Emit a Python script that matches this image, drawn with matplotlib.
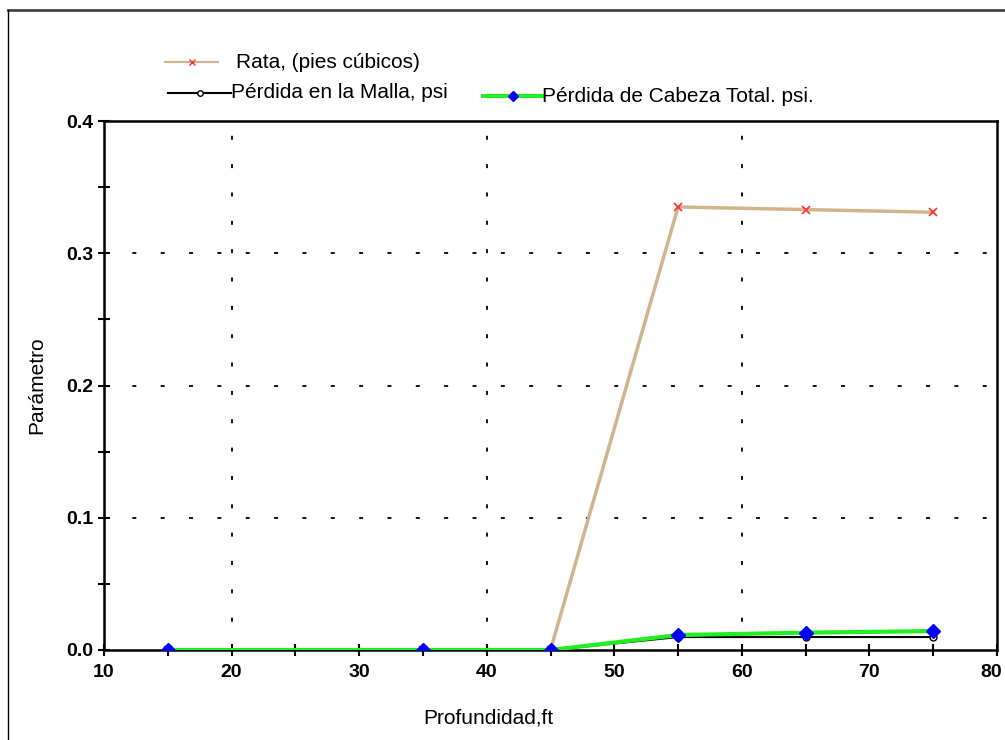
import matplotlib
matplotlib.use("Agg")
import matplotlib.pyplot as plt
import matplotlib.transforms as mtransforms
from matplotlib.lines import Line2D
from matplotlib.ticker import MultipleLocator

profundidad = [15, 35, 45, 55, 65, 75]
rata = [0.0, 0.0, 0.0, 0.335, 0.333, 0.331]
perdida_malla = [0.0, 0.0, 0.0, 0.0098, 0.0098, 0.0098]
perdida_total = [0.0, 0.0, 0.0, 0.0113, 0.0131, 0.0143]

x_ticks = [10, 20, 30, 40, 50, 60, 70, 80]
y_ticks = [0.0, 0.1, 0.2, 0.3, 0.4]
y_tick_labels = ["0.0", "0.1", "0.2", "0.3", "0.4"]

labels = ["Rata, (pies cúbicos)", "Pérdida en la Malla, psi", "Pérdida de Cabeza Total. psi."]

plt.rcParams["font.family"] = ["Liberation Sans", "DejaVu Sans"]

W, H = 1005, 740
fig = plt.figure(figsize=(W / 100, H / 100), dpi=100)
ax = fig.add_axes([104 / W, 1 - 650 / H, (997 - 104) / W, (650 - 121) / H])

ax.plot(profundidad, rata, color="#d2b48c", lw=2.5, marker="x", ms=6,
        mec="#ff3030", mew=1.2, zorder=3)
ax.plot(profundidad, perdida_malla, color="black", lw=1.5, marker="o", ms=5,
        mfc="white", mec="black", mew=1, zorder=4)
ax.plot(profundidad, perdida_total, color="#22ee22", lw=3, marker="D", ms=7,
        mfc="blue", mec="blue", zorder=5)

ax.set_xlim(10, 80)
ax.set_ylim(0, 0.4)
ax.set_xticks(x_ticks, [str(v) for v in x_ticks], fontweight="bold")
ax.set_yticks(y_ticks, y_tick_labels, fontweight="bold")
ax.xaxis.set_minor_locator(MultipleLocator(5))
ax.yaxis.set_minor_locator(MultipleLocator(0.05))
ax.tick_params(which="both", direction="inout", length=8, width=1.5, labelsize=14)
ax.tick_params(axis="x", pad=6)
# pull the "80" label slightly left so it stays inside the picture
last = ax.xaxis.get_major_ticks()[-1].label1
last.set_transform(last.get_transform() +
                   mtransforms.ScaledTranslation(-6 / 100, 0, fig.dpi_scale_trans))
for sp in ax.spines.values():
    sp.set_linewidth(1.8)

dash = (0, (2.2, 13.5))
for xv in [20, 40, 60]:
    ax.axvline(xv, color="black", lw=1.3, ls=dash, zorder=1)
for yv in [0.1, 0.2, 0.3]:
    ax.axhline(yv, color="black", lw=1.3, ls=dash, zorder=1)

ax.set_xlabel("Profundidad,ft", fontsize=15, va="center")
ax.xaxis.set_label_coords((488 - 104) / 893, -(718 - 650) / 529)
ax.set_ylabel("Parámetro", fontsize=15, va="center")
ax.yaxis.set_label_coords(-(104 - 37) / 893, 0.5)

# legend, placed as in the original
def px(x, y):
    return x / W, 1 - y / H

x0, y0 = px(165, 62)
x1, _ = px(218, 62)
fig.add_artist(Line2D([x0, x1], [y0, y0], color="#d2b48c", lw=1.5))
fig.add_artist(Line2D([(x0 + x1) / 2], [y0], marker="x", ms=4, mec="#ff3030", ls=""))
fig.text(*px(236, 62), labels[0], fontsize=15, va="center")

x0, y0 = px(168, 93)
x1, _ = px(231, 93)
fig.add_artist(Line2D([x0, x1], [y0, y0], color="black", lw=1.5))
fig.add_artist(Line2D([(x0 + x1) / 2], [y0], marker="o", ms=4, mfc="white",
                      mec="black", ls=""))
fig.text(*px(231, 93), labels[1], fontsize=15, va="center")

x0, y0 = px(483, 96)
x1, _ = px(542, 96)
fig.add_artist(Line2D([x0, x1], [y0, y0], color="#22ee22", lw=3))
fig.add_artist(Line2D([(x0 + x1) / 2], [y0], marker="D", ms=5, mfc="blue",
                      mec="blue", ls=""))
fig.text(*px(542, 97), labels[2], fontsize=15, va="center")

# outer frame
fig.add_artist(Line2D([8 / W, 1], [1 - 10 / H, 1 - 10 / H], color="#444444", lw=2))
fig.add_artist(Line2D([8 / W, 8 / W], [0, 1 - 10 / H], color="black", lw=1))

fig.savefig("out.png", dpi=100)
